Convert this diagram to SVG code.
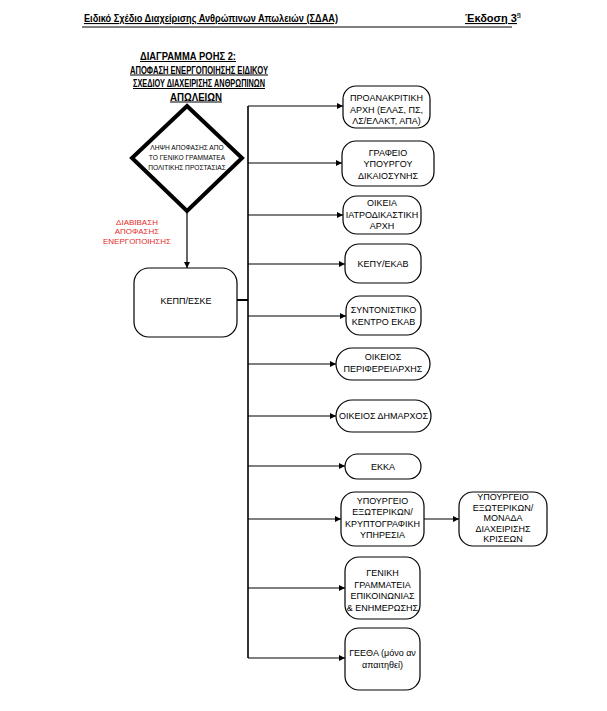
<svg xmlns="http://www.w3.org/2000/svg" width="607" height="711" viewBox="0 0 607 711">
<defs>
<marker id="ah" viewBox="0 0 8 8" refX="8" refY="4" markerWidth="6" markerHeight="6" orient="auto" markerUnits="userSpaceOnUse">
<path d="M0,0 L8,4 L0,8 z" fill="#000"/>
</marker>
<style>
.hd{font-family:"Liberation Sans",Arial,sans-serif;font-weight:bold;font-size:11px;fill:#000;text-decoration:underline}
.ti{font-family:"Liberation Sans",Arial,sans-serif;font-weight:bold;font-size:10px;fill:#000;text-decoration:underline;text-anchor:middle}
.n{fill:#fff;stroke:#000;stroke-width:1.2}
.t{font-family:"Liberation Sans",Arial,sans-serif;font-size:9px;fill:#000;text-anchor:middle}
.d{font-family:"Liberation Sans",Arial,sans-serif;font-size:6.6px;fill:#000;text-anchor:middle}
.r{font-family:"Liberation Sans",Arial,sans-serif;font-size:8px;fill:#e52b27;text-anchor:middle}
.c{fill:none;stroke:#000;stroke-width:1.2}
</style>
</defs>
<rect width="607" height="711" fill="#fff"/>
<g id="header">
<text class="hd" x="84" y="22" textLength="254" lengthAdjust="spacingAndGlyphs">Ειδικό Σχέδιο Διαχείρισης Ανθρώπινων Απωλειών (ΣΔΑΑ)</text>
<text class="hd" x="465" y="22" font-size="10">Έκδοση 3<tspan font-size="6" dy="-6">η</tspan></text>
<line x1="82" y1="27" x2="512" y2="27" stroke="#000" stroke-width="1"/>
</g>
<g id="title">
<text class="ti" x="188" y="60" textLength="96" lengthAdjust="spacingAndGlyphs">ΔΙΑΓΡΑΜΜΑ ΡΟΗΣ 2:</text>
<text class="ti" x="199" y="73.5" textLength="138" lengthAdjust="spacingAndGlyphs">ΑΠΟΦΑΣΗ ΕΝΕΡΓΟΠΟΙΗΣΗΣ ΕΙΔΙΚΟΥ</text>
<text class="ti" x="199" y="87" textLength="132" lengthAdjust="spacingAndGlyphs">ΣΧΕΔΙΟΥ ΔΙΑΧΕΙΡΙΣΗΣ ΑΝΘΡΩΠΙΝΩΝ</text>
<text class="ti" x="196" y="100.5" textLength="52" lengthAdjust="spacingAndGlyphs">ΑΠΩΛΕΙΩΝ</text>
</g>
<g id="connectors">
<line class="c" x1="187" y1="212" x2="187" y2="268" marker-end="url(#ah)"/>
<line x1="237" y1="300" x2="248" y2="300" stroke="#000" stroke-width="2"/>
<line x1="248" y1="106" x2="248" y2="658" stroke="#000" stroke-width="1.6"/>
<line class="c" x1="248" y1="106" x2="343" y2="106" marker-end="url(#ah)"/>
<line class="c" x1="248" y1="163" x2="342" y2="163" marker-end="url(#ah)"/>
<line class="c" x1="248" y1="215" x2="343" y2="215" marker-end="url(#ah)"/>
<line class="c" x1="248" y1="264" x2="345" y2="264" marker-end="url(#ah)"/>
<line class="c" x1="248" y1="316" x2="346" y2="316" marker-end="url(#ah)"/>
<line class="c" x1="248" y1="364" x2="336" y2="364" marker-end="url(#ah)"/>
<line class="c" x1="248" y1="416" x2="336" y2="416" marker-end="url(#ah)"/>
<line class="c" x1="248" y1="466" x2="345" y2="466" marker-end="url(#ah)"/>
<line class="c" x1="248" y1="519" x2="341" y2="519" marker-end="url(#ah)"/>
<line class="c" x1="424" y1="519" x2="459" y2="519" marker-end="url(#ah)"/>
<line class="c" x1="248" y1="588" x2="345" y2="588" marker-end="url(#ah)"/>
<line class="c" x1="248" y1="658" x2="345" y2="658" marker-end="url(#ah)"/>
</g>
<g id="decision">
<polygon points="187,106 242,158 187,211 132,158" fill="#fff" stroke="#000" stroke-width="4" stroke-linejoin="miter"/>
<text class="d" x="187" y="150">ΛΗΨΗ ΑΠΟΦΑΣΗΣ ΑΠΟ</text>
<text class="d" x="187" y="160">ΤΟ ΓΕΝΙΚΟ ΓΡΑΜΜΑΤΕΑ</text>
<text class="d" x="187" y="170">ΠΟΛΙΤΙΚΗΣ ΠΡΟΣΤΑΣΙΑΣ</text>
</g>
<g id="label-red">
<text class="r" x="137" y="225">ΔΙΑΒΙΒΑΣΗ</text>
<text class="r" x="137" y="234">ΑΠΟΦΑΣΗΣ</text>
<text class="r" x="137" y="244">ΕΝΕΡΓΟΠΟΙΗΣΗΣ</text>
</g>
<g id="kepp">
<rect class="n" x="134" y="268" width="103" height="69" rx="15"/>
<text class="t" x="186" y="304">ΚΕΠΠ/ΕΣΚΕ</text>
</g>
<g id="n1">
<rect class="n" x="343" y="86" width="87" height="42" rx="13"/>
<text class="t" x="386.5" y="101">ΠΡΟΑΝΑΚΡΙΤΙΚΗ</text>
<text class="t" x="386.5" y="112.5">ΑΡΧΗ (ΕΛΑΣ, ΠΣ,</text>
<text class="t" x="386.5" y="124">ΛΣ/ΕΛΑΚΤ, ΑΠΑ)</text>
</g>
<g id="n2">
<rect class="n" x="342" y="141" width="92" height="45" rx="14"/>
<text class="t" x="388" y="155.5">ΓΡΑΦΕΙΟ</text>
<text class="t" x="388" y="167">ΥΠΟΥΡΓΟΥ</text>
<text class="t" x="388" y="178.5">ΔΙΚΑΙΟΣΥΝΗΣ</text>
</g>
<g id="n3">
<rect class="n" x="343" y="196" width="78" height="38" rx="14"/>
<text class="t" x="382" y="206">ΟΙΚΕΙΑ</text>
<text class="t" x="382" y="217.5">ΙΑΤΡΟΔΙΚΑΣΤΙΚΗ</text>
<text class="t" x="382" y="229">ΑΡΧΗ</text>
</g>
<g id="n4">
<rect class="n" x="345" y="244" width="76" height="39" rx="14"/>
<text class="t" x="383" y="267">ΚΕΠΥ/ΕΚΑΒ</text>
</g>
<g id="n5">
<rect class="n" x="346" y="296" width="75" height="39" rx="14"/>
<text class="t" x="383.5" y="313">ΣΥΝΤΟΝΙΣΤΙΚΟ</text>
<text class="t" x="383.5" y="324.5">ΚΕΝΤΡΟ ΕΚΑΒ</text>
</g>
<g id="n6">
<rect class="n" x="336" y="348" width="94" height="32" rx="16"/>
<text class="t" x="383" y="360">ΟΙΚΕΙΟΣ</text>
<text class="t" x="383" y="371.5">ΠΕΡΙΦΕΡΕΙΑΡΧΗΣ</text>
</g>
<g id="n7">
<rect class="n" x="336" y="400" width="95" height="32" rx="16"/>
<text class="t" x="383.5" y="419">ΟΙΚΕΙΟΣ ΔΗΜΑΡΧΟΣ</text>
</g>
<g id="n8">
<rect class="n" x="345" y="454" width="76" height="25" rx="12.5"/>
<text class="t" x="383" y="469.5">ΕΚΚΑ</text>
</g>
<g id="n9">
<rect class="n" x="341" y="492" width="83" height="54" rx="14"/>
<text class="t" x="382.5" y="503.5">ΥΠΟΥΡΓΕΙΟ</text>
<text class="t" x="382.5" y="515">ΕΞΩΤΕΡΙΚΩΝ/</text>
<text class="t" x="382.5" y="526.5">ΚΡΥΠΤΟΓΡΑΦΙΚΗ</text>
<text class="t" x="382.5" y="538">ΥΠΗΡΕΣΙΑ</text>
</g>
<g id="n10">
<rect class="n" x="459" y="492" width="88" height="54" rx="14"/>
<text class="t" x="503" y="500">ΥΠΟΥΡΓΕΙΟ</text>
<text class="t" x="503" y="510.5">ΕΞΩΤΕΡΙΚΩΝ/</text>
<text class="t" x="503" y="521">ΜΟΝΑΔΑ</text>
<text class="t" x="503" y="531.5">ΔΙΑΧΕΙΡΙΣΗΣ</text>
<text class="t" x="503" y="542">ΚΡΙΣΕΩΝ</text>
</g>
<g id="n11">
<rect class="n" x="345" y="557" width="75" height="62" rx="14"/>
<text class="t" x="382.5" y="576">ΓΕΝΙΚΗ</text>
<text class="t" x="382.5" y="587.5">ΓΡΑΜΜΑΤΕΙΑ</text>
<text class="t" x="382.5" y="599">ΕΠΙΚΟΙΝΩΝΙΑΣ</text>
<text class="t" x="382.5" y="610.5">&amp; ΕΝΗΜΕΡΩΣΗΣ</text>
</g>
<g id="n12">
<rect class="n" x="345" y="628" width="75" height="62" rx="14"/>
<text class="t" x="382.5" y="656">ΓΕΕΘΑ (μόνο αν</text>
<text class="t" x="382.5" y="668">απαιτηθεί)</text>
</g>
</svg>
